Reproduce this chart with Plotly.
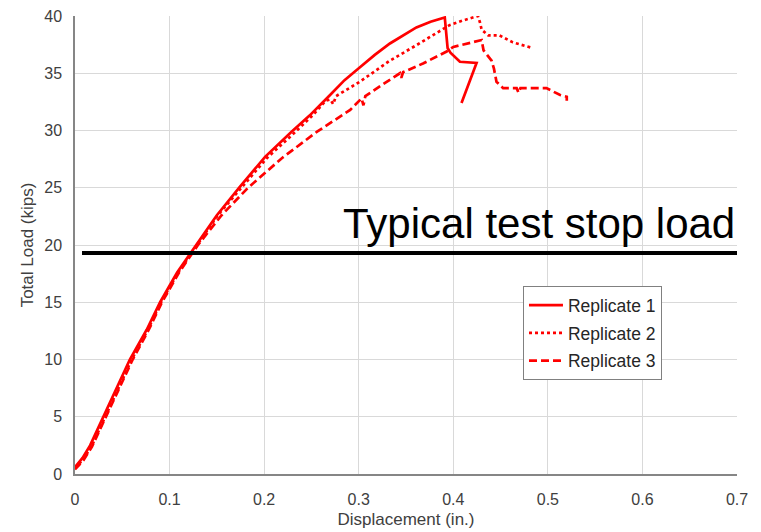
import plotly.graph_objects as go

# Replicate 1 (solid)
rep1_x = [0, 0.008, 0.016, 0.030, 0.044, 0.058, 0.0758, 0.090, 0.108, 0.128, 0.150, 0.1745,
          0.201, 0.229, 0.248, 0.2697, 0.285, 0.301, 0.317, 0.333, 0.347, 0.361, 0.376, 0.391,
          0.394, 0.397, 0.407, 0.4246, 0.4087]
rep1_y = [0.6, 1.4, 2.5, 5.0, 7.5, 10.0, 12.6, 15.0, 17.6, 20.0, 22.6, 25.1,
          27.7, 29.9, 31.3, 33.1, 34.4, 35.5, 36.6, 37.6, 38.3, 39.0, 39.5, 39.87,
          37.2, 36.8, 36.0, 35.9, 32.4]

# Replicate 2 (dotted)
rep2_x = [0, 0.009, 0.018, 0.032, 0.046, 0.060, 0.077, 0.091, 0.109, 0.129, 0.151, 0.176,
          0.203, 0.232, 0.251, 0.265, 0.270, 0.273, 0.276, 0.301, 0.333, 0.361, 0.380, 0.396,
          0.410, 0.426, 0.428, 0.430, 0.437, 0.449, 0.463, 0.484]
rep2_y = [0.5, 1.3, 2.5, 5.0, 7.5, 10.0, 12.6, 15.0, 17.6, 20.0, 22.6, 25.0,
          27.6, 29.8, 31.3, 32.6, 32.7, 32.3, 33.0, 34.25, 36.1, 37.45, 38.4, 39.2,
          39.6, 40.0, 39.5, 38.8, 38.3, 38.3, 37.7, 37.2]

# Replicate 3 (dashed)
rep3_x = [0, 0.009, 0.018, 0.033, 0.047, 0.061, 0.078, 0.092, 0.110, 0.130, 0.155, 0.183,
          0.219, 0.256, 0.291, 0.301, 0.303, 0.305, 0.307, 0.325, 0.3436, 0.345, 0.347, 0.368,
          0.393, 0.400, 0.415, 0.430, 0.432, 0.4405, 0.443, 0.4457, 0.4527, 0.467, 0.469,
          0.471, 0.4985, 0.513, 0.520, 0.520]
rep3_y = [0.4, 1.2, 2.4, 5.0, 7.5, 10.0, 12.6, 15.0, 17.6, 20.0, 22.6, 25.0,
          27.6, 29.9, 31.8, 32.6, 32.8, 32.2, 33.0, 34.0, 35.0, 34.6, 35.1, 35.85,
          36.9, 37.3, 37.6, 37.9, 37.0, 36.1, 35.4, 34.25, 33.7, 33.7, 33.3,
          33.7, 33.7, 33.1, 32.95, 32.6]

series_names = ["Replicate 1", "Replicate 2", "Replicate 3"]

stop_load = 19.3
stop_x = [0.0074, 0.7]
stop_label = "Typical test stop load"

x_ticks = [0, 0.1, 0.2, 0.3, 0.4, 0.5, 0.6, 0.7]
x_tick_text = ["0", "0.1", "0.2", "0.3", "0.4", "0.5", "0.6", "0.7"]
y_ticks = [0, 5, 10, 15, 20, 25, 30, 35, 40]

FONT = "Liberation Sans, Arial, sans-serif"
RED = "#ff0000"

fig = go.Figure()
for i, (xs, ys, dash) in enumerate([(rep1_x, rep1_y, "solid"),
                                     (rep2_x, rep2_y, "3px,3px"),
                                     (rep3_x, rep3_y, "8px,4px")]):
    fig.add_trace(go.Scatter(x=xs, y=ys, mode="lines", name=series_names[i],
                             legendgroup=f"g{i}",
                             line=dict(color=RED, width=2.7, dash=dash)))

fig.add_shape(type="line", x0=stop_x[0], x1=stop_x[1], y0=stop_load, y1=stop_load,
              xref="x", yref="y", line=dict(color="black", width=4), layer="above")
fig.add_annotation(x=0.7, y=21.85, xref="x", yref="y", text=stop_label, showarrow=False,
                   xanchor="right", yanchor="middle",
                   font=dict(family=FONT, size=42, color="black"))

fig.update_layout(
    width=761, height=532,
    margin=dict(l=75, r=24, t=16, b=58, autoexpand=False),
    paper_bgcolor="white", plot_bgcolor="white",
    font=dict(family=FONT, color="#404040"),
    legend=dict(x=0.6767, y=0.410, xanchor="left", yanchor="top",
                bordercolor="#808080", borderwidth=1, bgcolor="white",
                font=dict(family=FONT, size=17.5, color="#262626"),
                tracegroupgap=2, itemwidth=34),
    showlegend=True,
)
fig.update_xaxes(range=[0, 0.7], tickvals=x_ticks, ticktext=x_tick_text,
                 automargin=False,
                 showgrid=True, gridcolor="#d9d9d9", gridwidth=1,
                 zeroline=False, showline=True, linecolor="#868686", linewidth=1.5,
                 ticks="", tickfont=dict(size=16, color="#404040"),
                 ticklabelstandoff=10,
                 title=dict(text="Displacement (in.)", font=dict(size=17, color="#404040"),
                            standoff=6))
fig.update_yaxes(range=[0, 40], tickvals=y_ticks,
                 automargin=False,
                 showgrid=True, gridcolor="#d9d9d9", gridwidth=1,
                 zeroline=False, showline=True, linecolor="#868686", linewidth=1.5,
                 ticks="", tickfont=dict(size=16, color="#404040"),
                 ticklabelstandoff=8,
                 title=dict(text="Total Load (kips)", font=dict(size=17, color="#404040"),
                            standoff=6))

fig.write_html("out.html", config={"displayModeBar": False},
               post_script="document.body.style.margin='0';document.body.style.overflow='hidden';")
